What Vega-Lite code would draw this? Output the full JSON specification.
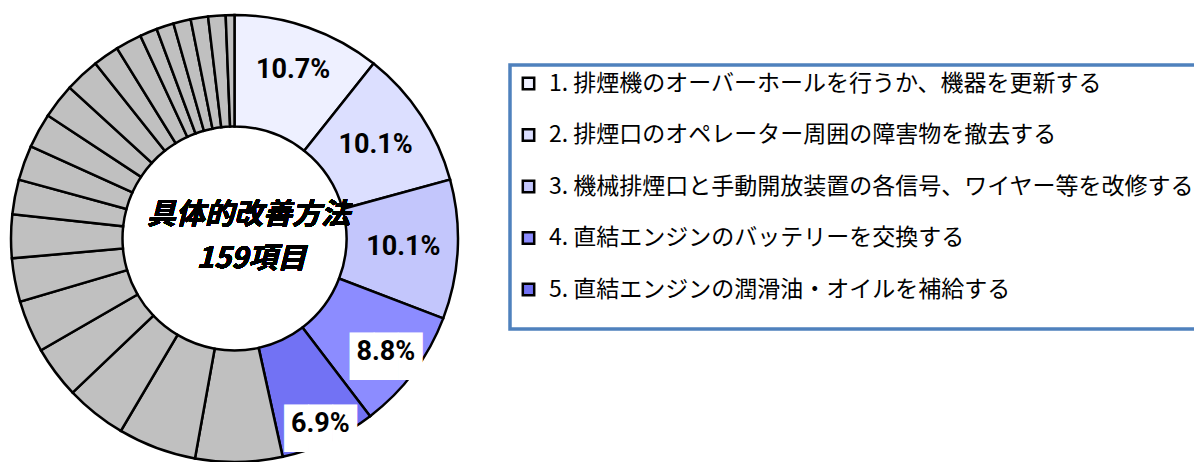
{
  "$schema": "https://vega.github.io/schema/vega-lite/v6.json",
  "width": 469,
  "height": 447,
  "autosize": "none",
  "padding": {"left": 0, "top": 15, "right": 725, "bottom": 0},
  "background": "white",
  "config": {
    "view": {"stroke": null},
    "legend": {"strokeWidth": 3.5}
  },
  "data": {
    "values": [
      {"id": 1, "group": "1. 排煙機のオーバーホールを行うか、機器を更新する", "count": 17, "pct": "10.7%"},
      {"id": 2, "group": "2. 排煙口のオペレーター周囲の障害物を撤去する", "count": 16, "pct": "10.1%"},
      {"id": 3, "group": "3. 機械排煙口と手動開放装置の各信号、ワイヤー等を改修する", "count": 16, "pct": "10.1%"},
      {"id": 4, "group": "4. 直結エンジンのバッテリーを交換する", "count": 14, "pct": "8.8%"},
      {"id": 5, "group": "5. 直結エンジンの潤滑油・オイルを補給する", "count": 11, "pct": "6.9%"},
      {"id": 6, "group": "その他", "count": 10, "pct": ""},
      {"id": 7, "group": "その他", "count": 9, "pct": ""},
      {"id": 8, "group": "その他", "count": 7, "pct": ""},
      {"id": 9, "group": "その他", "count": 6, "pct": ""},
      {"id": 10, "group": "その他", "count": 6, "pct": ""},
      {"id": 11, "group": "その他", "count": 5, "pct": ""},
      {"id": 12, "group": "その他", "count": 5, "pct": ""},
      {"id": 13, "group": "その他", "count": 4, "pct": ""},
      {"id": 14, "group": "その他", "count": 4, "pct": ""},
      {"id": 15, "group": "その他", "count": 4, "pct": ""},
      {"id": 16, "group": "その他", "count": 4, "pct": ""},
      {"id": 17, "group": "その他", "count": 4, "pct": ""},
      {"id": 18, "group": "その他", "count": 3, "pct": ""},
      {"id": 19, "group": "その他", "count": 3, "pct": ""},
      {"id": 20, "group": "その他", "count": 2, "pct": ""},
      {"id": 21, "group": "その他", "count": 2, "pct": ""},
      {"id": 22, "group": "その他", "count": 2, "pct": ""},
      {"id": 23, "group": "その他", "count": 2, "pct": ""},
      {"id": 24, "group": "その他", "count": 2, "pct": ""},
      {"id": 25, "group": "その他", "count": 1, "pct": ""}
    ]
  },
  "layer": [
    {
      "mark": {"type": "arc", "innerRadius": 112, "outerRadius": 223.5, "stroke": "black", "strokeWidth": 2.5},
      "encoding": {
        "theta": {"field": "count", "type": "quantitative", "stack": true},
        "order": {"field": "id", "type": "quantitative"},
        "color": {
          "field": "group",
          "type": "nominal",
          "scale": {
            "domain": [
              "1. 排煙機のオーバーホールを行うか、機器を更新する",
              "2. 排煙口のオペレーター周囲の障害物を撤去する",
              "3. 機械排煙口と手動開放装置の各信号、ワイヤー等を改修する",
              "4. 直結エンジンのバッテリーを交換する",
              "5. 直結エンジンの潤滑油・オイルを補給する",
              "その他"
            ],
            "range": ["#eef0ff", "#dcdfff", "#c3c6fc", "#8c8cff", "#7272f4", "#c0c0c0"]
          },
          "legend": {
            "values": [
              "1. 排煙機のオーバーホールを行うか、機器を更新する",
              "2. 排煙口のオペレーター周囲の障害物を撤去する",
              "3. 機械排煙口と手動開放装置の各信号、ワイヤー等を改修する",
              "4. 直結エンジンのバッテリーを交換する",
              "5. 直結エンジンの潤滑油・オイルを補給する"
            ],
            "title": " ",
            "titleOrient": "bottom",
            "titleFontSize": 12,
            "titlePadding": 9,
            "orient": "none",
            "legendX": 510,
            "legendY": 50,
            "symbolType": "square",
            "symbolSize": 130,
            "symbolStrokeColor": "black",
            "symbolStrokeWidth": 2.5,
            "symbolOpacity": 1,
            "labelFont": "Noto Sans CJK JP",
            "labelFontSize": 23,
            "labelColor": "black",
            "labelLimit": 1000,
            "labelOffset": 9,
            "rowPadding": 27.5,
            "padding": 7,
            "strokeColor": "#4f81bd"
          }
        }
      }
    },
    {
      "mark": {"type": "text", "radius": 189, "font": "DejaVu Sans Mono", "fontSize": 40, "color": "white", "align": "center", "baseline": "middle", "dy": 6},
      "encoding": {
        "theta": {"field": "count", "type": "quantitative", "stack": true},
        "order": {"field": "id", "type": "quantitative"},
        "text": {"condition": {"test": "datum.id == 4", "value": "███"}, "value": ""}
      }
    },
    {
      "mark": {"type": "text", "radius": 204, "font": "DejaVu Sans Mono", "fontSize": 40, "color": "white", "align": "center", "baseline": "middle", "dy": 6},
      "encoding": {
        "theta": {"field": "count", "type": "quantitative", "stack": true},
        "order": {"field": "id", "type": "quantitative"},
        "text": {"condition": {"test": "datum.id == 5", "value": "███"}, "value": ""}
      }
    },
    {
      "mark": {"type": "text", "radius": 178, "font": "Roboto", "fontWeight": "bold", "fontSize": 27, "color": "black", "align": "center", "baseline": "middle"},
      "encoding": {
        "theta": {"field": "count", "type": "quantitative", "stack": true},
        "order": {"field": "id", "type": "quantitative"},
        "text": {"condition": {"test": "datum.id == 1", "field": "pct"}, "value": ""}
      }
    },
    {
      "mark": {"type": "text", "radius": 169, "font": "Roboto", "fontWeight": "bold", "fontSize": 27, "color": "black", "align": "center", "baseline": "middle"},
      "encoding": {
        "theta": {"field": "count", "type": "quantitative", "stack": true},
        "order": {"field": "id", "type": "quantitative"},
        "text": {"condition": {"test": "datum.id == 2 || datum.id == 3", "field": "pct"}, "value": ""}
      }
    },
    {
      "mark": {"type": "text", "radius": 189, "font": "Roboto", "fontWeight": "bold", "fontSize": 27, "color": "black", "align": "center", "baseline": "middle"},
      "encoding": {
        "theta": {"field": "count", "type": "quantitative", "stack": true},
        "order": {"field": "id", "type": "quantitative"},
        "text": {"condition": {"test": "datum.id == 4", "field": "pct"}, "value": ""}
      }
    },
    {
      "mark": {"type": "text", "radius": 204, "font": "Roboto", "fontWeight": "bold", "fontSize": 27, "color": "black", "align": "center", "baseline": "middle"},
      "encoding": {
        "theta": {"field": "count", "type": "quantitative", "stack": true},
        "order": {"field": "id", "type": "quantitative"},
        "text": {"condition": {"test": "datum.id == 5", "field": "pct"}, "value": ""}
      }
    },
    {
      "mark": {"type": "text", "font": "Noto Sans CJK JP", "fontWeight": "bold", "fontStyle": "italic", "fontSize": 29, "color": "black", "align": "center", "baseline": "middle", "dx": 14, "dy": -24, "text": "具体的改善方法"},
      "encoding": {"theta": {"value": 0}, "radius": {"value": 0}}
    },
    {
      "mark": {"type": "text", "font": "Noto Sans CJK JP", "fontWeight": "bold", "fontStyle": "italic", "fontSize": 29, "color": "black", "align": "center", "baseline": "middle", "dx": 17, "dy": 20, "text": "159項目"},
      "encoding": {"theta": {"value": 0}, "radius": {"value": 0}}
    }
  ]
}
